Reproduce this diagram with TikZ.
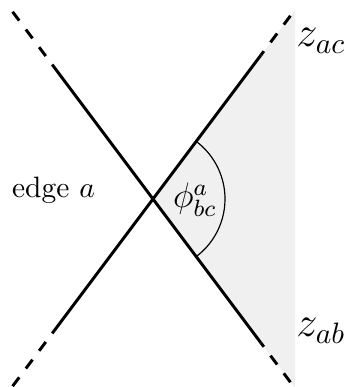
\documentclass[tikz,border=0pt]{standalone}
\begin{document}
\begin{tikzpicture}[x=0.339pt,y=0.339pt,
  edgeline/.style={line width=1pt,black},
  dashedge/.style={line width=1pt,black,dash pattern=on 3.75pt off 3.75pt},
  lab/.style={inner sep=0pt},
  biglab/.style={inner sep=0pt,font=\large},
  zlab/.style={inner sep=0pt,font=\Large}]
\useasboundingbox (0,0) rectangle (344,387);
\coordinate (C) at (153,188);
\coordinate (TRo) at (290.4,371.2);
\coordinate (TRs) at (261,332);
\coordinate (BRo) at (290.4,4.8);
\coordinate (BRs) at (261,44);
\coordinate (TLo) at (12.6,375.2);
\coordinate (TLs) at (52.2,322.4);
\coordinate (BLo) at (12.6,0.8);
\coordinate (BLs) at (52.2,53.6);
\coordinate (GT) at (295,377);
\coordinate (GB) at (295,-1);
\fill[black!6] (C) -- (GT) -- (GB) -- cycle;
\draw[edgeline] (TLs) -- (BRs);
\draw[edgeline] (BLs) -- (TRs);
\draw[dashedge] (TLo) -- (TLs);
\draw[dashedge] (BLo) -- (BLs);
\draw[dashedge] (TRo) -- (TRs);
\draw[dashedge] (BRo) -- (BRs);
\draw[line width=0.4pt] (C) ++(-53.13:72) arc[start angle=-53.13,end angle=53.13,radius=72];
\node[lab,anchor=base] (ea) at (53.5,189) {edge $a$};
\node[biglab] (phi) at (195,187) {$\phi^a_{bc}$};
\node[zlab] (zac) at (321,346) {$z_{ac}$};
\node[zlab] (zab) at (321,56) {$z_{ab}$};
\end{tikzpicture}
\end{document}
